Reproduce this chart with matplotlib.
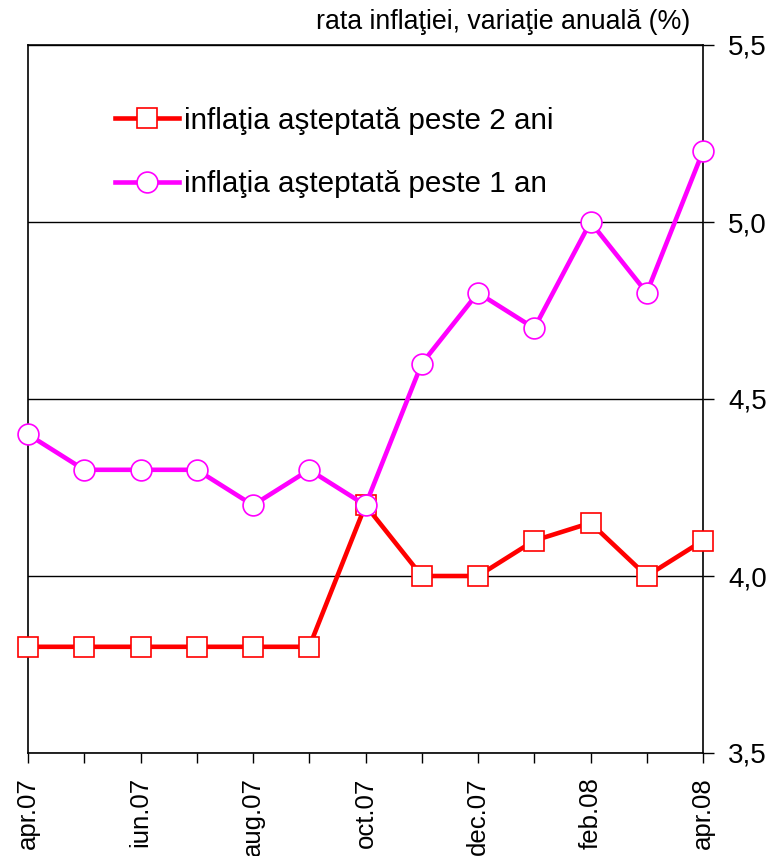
import matplotlib.pyplot as plt
from matplotlib.ticker import FuncFormatter, MultipleLocator

plt.rcParams['font.family'] = ['Liberation Sans', 'DejaVu Sans']

# Data
months = ['apr.07', 'mai.07', 'iun.07', 'iul.07', 'aug.07', 'sep.07', 'oct.07',
          'nov.07', 'dec.07', 'ian.08', 'feb.08', 'mar.08', 'apr.08']
infl_2ani = [3.8, 3.8, 3.8, 3.8, 3.8, 3.8, 4.2, 4.0, 4.0, 4.1, 4.15, 4.0, 4.1]
infl_1an = [4.4, 4.3, 4.3, 4.3, 4.2, 4.3, 4.2, 4.6, 4.8, 4.7, 5.0, 4.8, 5.2]

fig = plt.figure(figsize=(7.75, 8.56), dpi=100)
ax = fig.add_axes([28 / 775, 1 - 753 / 856, (703 - 28) / 775, (753 - 45) / 856])

x = list(range(len(months)))
ax.plot(x, infl_2ani, color='#ff0000', lw=3.3, marker='s', ms=14,
        mfc='white', mec='#ff0000', mew=1.2, clip_on=False, zorder=3,
        label='inflaţia aşteptată peste 2 ani')
ax.plot(x, infl_1an, color='#ff00ff', lw=3.3, marker='o', ms=15,
        mfc='white', mec='#ff00ff', mew=1.2, clip_on=False, zorder=3,
        label='inflaţia aşteptată peste 1 an')

ax.set_xlim(0, len(months) - 1)
ax.set_ylim(3.5, 5.5)
ax.yaxis.set_major_locator(MultipleLocator(0.5))
ax.yaxis.set_major_formatter(FuncFormatter(lambda v, p: f'{v:.1f}'.replace('.', ',')))
ax.yaxis.tick_right()
ax.grid(axis='y', color='black', lw=1)
ax.set_axisbelow(True)

# labels every second month, ticks every month
ax.set_xticks(x)
ax.set_xticklabels([m if i % 2 == 0 else '' for i, m in enumerate(months)],
                   rotation=90, fontsize=18.5)
ax.tick_params(axis='x', length=7.5, width=1, pad=10)
ax.tick_params(axis='y', length=8, width=1, labelsize=20, pad=10)
for s in ax.spines.values():
    s.set_linewidth(1.2)

fig.text(690 / 775, 1 - 22 / 856, 'rata inflaţiei, variaţie anuală (%)',
         ha='right', va='center', fontsize=19.3)

leg = ax.legend(loc='upper left', bbox_to_anchor=(0.129, 0.913), frameon=False,
                fontsize=21.3, handlelength=2.15, handletextpad=0.17,
                labelspacing=1.2, borderpad=0, borderaxespad=0)

fig.savefig('out.png', dpi=100)
